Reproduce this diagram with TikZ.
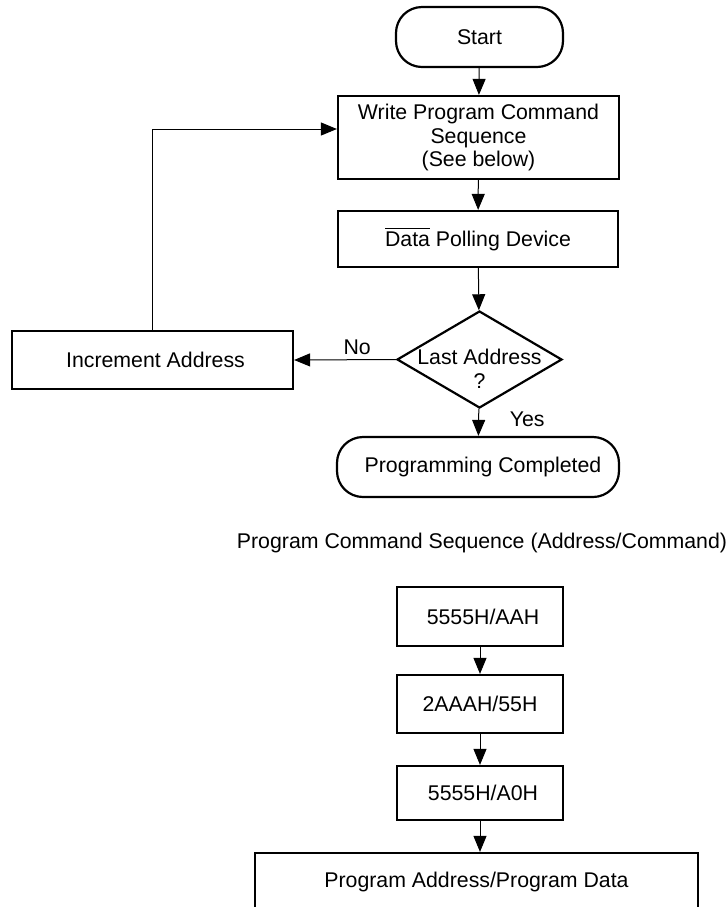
\documentclass[tikz,border=0pt]{standalone}
\usepackage{amsmath,amssymb}
\usepackage{fontspec}
\setmainfont{Liberation Sans}
\usepackage{tikz}
\usetikzlibrary{arrows.meta,shapes.geometric}

\tikzset{
  box/.style={draw, line width=1.1pt, rectangle, inner sep=0pt, align=center},
  terminal/.style={box, rounded corners=13pt},
  decision/.style={draw, line width=1.1pt, diamond, inner sep=0pt},
  flow/.style={line width=0.5pt, -{Triangle[length=8pt,width=6.5pt]}}
}

\begin{document}
\begin{tikzpicture}[x=0.5pt,y=0.5pt,yscale=-1,xscale=1,
  font=\fontsize{10.65}{11.8}\selectfont]
\useasboundingbox (0,0) rectangle (728,907);
\clip (0,0) rectangle (728,907);

%Shape: Terminals
\node (start) at (479.5,37) [terminal, minimum width=83.5pt, minimum height=30pt] {Start};
\node (done) at (478,467) [terminal, minimum width=141pt, minimum height=30pt] {\hspace{5pt}Programming Completed};

%Shape: Rectangles
\node (write) at (478.5,137.5) [box, minimum width=140.5pt, minimum height=41.5pt] {Write Program Command\\Sequence\\(See below)};
\node (poll) at (478,239) [box, minimum width=140pt, minimum height=28pt] {$\overline{\text{Data}}$ Polling Device};
\node (inc) at (152.5,360) [box, minimum width=140.5pt, minimum height=29pt] {\hspace{3pt}Increment Address};

%Shape: Diamond
\node (last) at (479.5,359.5) [decision, minimum width=82.5pt, minimum height=48.5pt,
  label={[align=center, yshift=-4.5pt]center:Last Address\\?}] {};

% Text Node
\node (seqtitle) at (482,543) {Program Command Sequence (Address/Command)};

%Shape: Sequence boxes
\node (seqa) at (480,616.5) [box, minimum width=83pt, minimum height=29.5pt] {\hspace{3pt}5555H/AAH};
\node (seqb) at (480,704) [box, minimum width=83pt, minimum height=29pt] {2AAAH/55H};
\node (seqc) at (480,793) [box, minimum width=83pt, minimum height=27pt] {\hspace{3pt}5555H/A0H};
\node (data) at (476.5,882) [box, minimum width=221.5pt, minimum height=29pt] {Program Address/Program Data};

%Straight Lines
\draw [flow] (start) -- (write);
\draw [flow] (write) -- (poll);
\draw [flow] (poll) -- (last);
\draw [flow] (last) -- node [pos=0.4, right=12pt] {Yes} (done);
\draw [flow] (last.west) -- node [pos=0.38, above=-1pt] {No} (inc.east);
\draw [flow] (inc.north) |- ([yshift=-4.25pt]write.west);

\draw [flow] (seqa) -- (seqb);
\draw [flow] (seqb) -- (seqc);
\draw [flow] (seqc) -- (seqc |- data.north);

\end{tikzpicture}
\end{document}
